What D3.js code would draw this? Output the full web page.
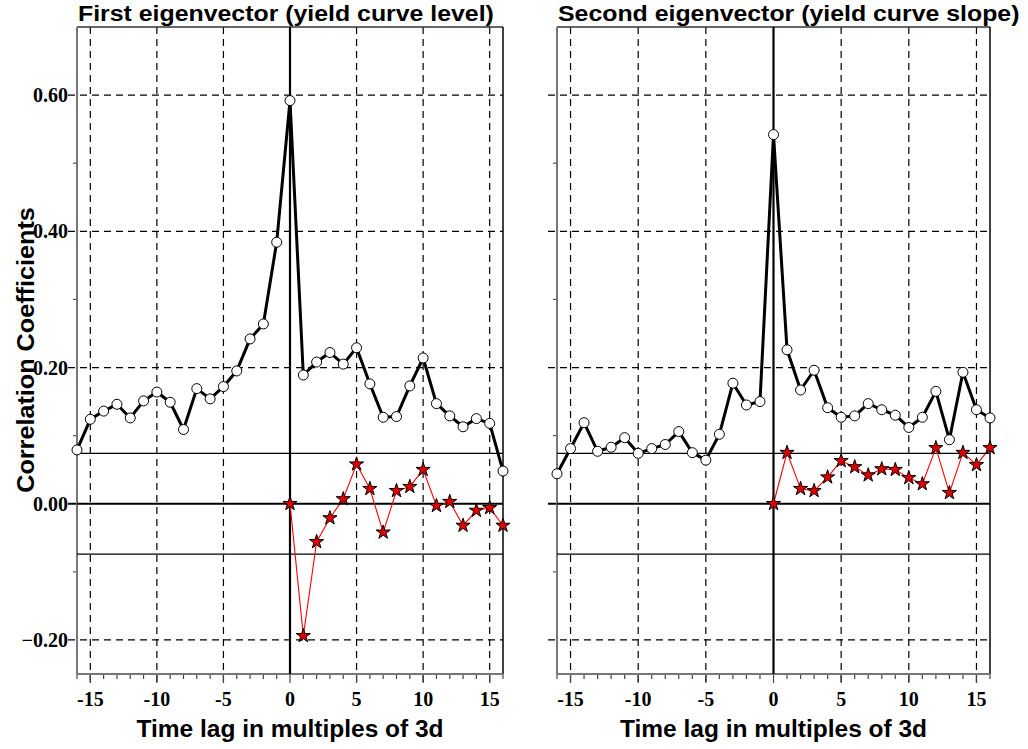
<!DOCTYPE html>
<html>
<head>
<meta charset="utf-8">
<script src="https://cdn.jsdelivr.net/npm/d3@7"></script>
<style>
body{margin:0;background:#fff}
</style>
</head>
<body>
<div id="chart"></div>
<script>
/* data */
var lags = d3.range(-16, 17);
var lagsPos = d3.range(0, 17);

var levelCorr = [0.079,0.124,0.136,0.146,0.126,0.151,0.164,0.149,0.109,0.169,0.154,0.172,0.195,0.242,0.264,0.384,
	0.592,
	0.189,0.208,0.222,0.205,0.229,0.176,0.127,0.128,0.173,0.214,0.147,0.129,0.113,0.125,0.118,0.048];
var levelPartial = [0.000,-0.194,-0.056,-0.021,0.007,0.058,0.022,-0.042,0.019,0.025,0.050,-0.003,0.003,-0.032,-0.010,-0.006,-0.032];

var slopeCorr = [0.044,0.081,0.119,0.077,0.083,0.097,0.074,0.081,0.087,0.106,0.075,0.064,0.102,0.177,0.145,0.150,
	0.542,
	0.226,0.167,0.196,0.141,0.127,0.129,0.147,0.138,0.130,0.112,0.127,0.165,0.094,0.193,0.138,0.126];
var slopePartial = [0.000,0.075,0.022,0.019,0.039,0.063,0.054,0.042,0.051,0.050,0.038,0.029,0.082,0.016,0.075,0.057,0.082];

var confBound = [0.074, -0.074];
var yTicks = [-0.2, 0, 0.2, 0.4, 0.6];
var yMinor = [-0.1, 0.1, 0.3, 0.5];
var xMajor = [-15, -10, -5, 0, 5, 10, 15];
var titles = ["First eigenvector (yield curve level)", "Second eigenvector (yield curve slope)"];
var xLabel = "Time lag in multiples of 3d";
var yLabel = "Correlation Coefficients";

/* layout */
var width = 1028, height = 749;
var top_ = 27, bottom_ = 674;
var panels = [
	{x0: 77, x1: 503, corr: levelCorr, part: levelPartial, title: titles[0], labels: true},
	{x0: 557, x1: 990, corr: slopeCorr, part: slopePartial, title: titles[1], labels: false}
];

var svg = d3.select("#chart").append("svg")
	.attr("width", width).attr("height", height);

var y = d3.scaleLinear().domain([-0.25, 0.70]).range([bottom_, top_]);

var sansBold = "'Liberation Sans', Arial, sans-serif";
var serifBold = "'Liberation Serif', 'Times New Roman', serif";

// the original font runs a bit wider than Liberation Sans, stretch it
function stretch(sel, k){
	sel.each(function(){
		var w = this.getComputedTextLength();
		d3.select(this).attr("textLength", w * k).attr("lengthAdjust", "spacingAndGlyphs");
	});
}

panels.forEach(function(p){
	var x = d3.scaleLinear().domain([-16, 16]).range([p.x0, p.x1]);
	var g = svg.append("g");

	/* dashed grid */
	g.selectAll(".vgrid").data(xMajor.filter(function(d){ return d !== 0; }))
		.enter().append("line")
		.attr("x1", x).attr("x2", x)
		.attr("y1", top_).attr("y2", bottom_ + 9)
		.attr("stroke", "#000").attr("stroke-width", 1.2)
		.attr("stroke-dasharray", "7,5");
	g.selectAll(".hgrid").data(yTicks.filter(function(d){ return d !== 0; }))
		.enter().append("line")
		.attr("x1", p.x0 - 9).attr("x2", p.x1)
		.attr("y1", y).attr("y2", y)
		.attr("stroke", "#000").attr("stroke-width", 1.2)
		.attr("stroke-dasharray", "7,5");

	/* minor y ticks */
	g.selectAll(".ymin").data(yMinor).enter().append("line")
		.attr("x1", p.x0 - 4).attr("x2", p.x0)
		.attr("y1", y).attr("y2", y)
		.attr("stroke", "#555").attr("stroke-width", 1.2);
	/* zero tick */
	g.append("line")
		.attr("x1", p.x0 - 9).attr("x2", p.x0)
		.attr("y1", y(0)).attr("y2", y(0))
		.attr("stroke", "#000").attr("stroke-width", 2);

	/* x ticks */
	g.selectAll(".xmin").data(d3.range(-16, 17)).enter().append("line")
		.attr("x1", x).attr("x2", x)
		.attr("y1", bottom_).attr("y2", function(d){ return bottom_ + (d % 5 === 0 ? 9 : 5); })
		.attr("stroke", "#444").attr("stroke-width", 1.2);

	/* frame */
	g.append("line").attr("x1", p.x0).attr("x2", p.x1).attr("y1", top_).attr("y2", top_)
		.attr("stroke", "#333").attr("stroke-width", 1.5);
	g.append("line").attr("x1", p.x1).attr("x2", p.x1).attr("y1", top_).attr("y2", bottom_)
		.attr("stroke", "#000").attr("stroke-width", 1.5);
	g.append("line").attr("x1", p.x0).attr("x2", p.x0).attr("y1", top_).attr("y2", bottom_)
		.attr("stroke", "#777").attr("stroke-width", 2);
	g.append("line").attr("x1", p.x0).attr("x2", p.x1).attr("y1", bottom_).attr("y2", bottom_)
		.attr("stroke", "#777").attr("stroke-width", 2);

	/* zero lines */
	g.append("line").attr("x1", p.x0).attr("x2", p.x1).attr("y1", y(0)).attr("y2", y(0))
		.attr("stroke", "#000").attr("stroke-width", 2.2);
	g.append("line").attr("x1", x(0)).attr("x2", x(0)).attr("y1", top_).attr("y2", bottom_)
		.attr("stroke", "#000").attr("stroke-width", 2.2);

	/* confidence bounds */
	g.selectAll(".conf").data(confBound).enter().append("line")
		.attr("x1", p.x0).attr("x2", p.x1)
		.attr("y1", y).attr("y2", y)
		.attr("stroke", "#000").attr("stroke-width", 1.1);

	/* correlation line */
	var line = d3.line()
		.x(function(d, i){ return x(lags[i]); })
		.y(function(d){ return y(d); });
	g.append("path").datum(p.corr)
		.attr("d", line)
		.attr("fill", "none").attr("stroke", "#000")
		.attr("stroke-width", 3).attr("stroke-linejoin", "round");

	/* partial line */
	var line2 = d3.line()
		.x(function(d, i){ return x(lagsPos[i]); })
		.y(function(d){ return y(d); });
	g.append("path").datum(p.part)
		.attr("d", line2)
		.attr("fill", "none").attr("stroke", "#ff0000")
		.attr("stroke-width", 1.1);

	g.selectAll(".dot").data(p.corr).enter().append("circle")
		.attr("cx", function(d, i){ return x(lags[i]); })
		.attr("cy", function(d){ return y(d); })
		.attr("r", 5)
		.attr("fill", "#fff").attr("stroke", "#000").attr("stroke-width", 1);

	var star = d3.symbol().type(d3.symbolStar).size(62);
	g.selectAll(".star").data(p.part).enter().append("path")
		.attr("d", star)
		.attr("transform", function(d, i){ return "translate(" + x(lagsPos[i]) + "," + y(d) + ")"; })
		.attr("fill", "#e00000").attr("stroke", "#000").attr("stroke-width", 1);

	/* tick labels */
	g.selectAll(".xlab").data(xMajor).enter().append("text")
		.attr("x", x).attr("y", 706)
		.attr("text-anchor", "middle")
		.style("font-family", serifBold).style("font-weight", "bold").style("font-size", "20px")
		.text(function(d){ return d; });

	if (p.labels) {
		g.selectAll(".ylab").data(yTicks).enter().append("text")
			.attr("x", p.x0 - 9).attr("y", function(d){ return y(d) + 7; })
			.attr("text-anchor", "end")
			.style("font-family", serifBold).style("font-weight", "bold").style("font-size", "20px")
			.text(function(d){ return d3.format(".2f")(d); });
	}

	/* titles */
	g.append("text")
		.attr("x", p.x0 + 1).attr("y", 21)
		.style("font-family", sansBold).style("font-weight", "bold").style("font-size", "22px")
		.text(p.title)
		.call(stretch, 1.13);

	g.append("text")
		.attr("x", (p.x0 + p.x1) / 2).attr("y", 737)
		.attr("text-anchor", "middle")
		.style("font-family", sansBold).style("font-weight", "bold").style("font-size", "23px")
		.text(xLabel)
		.call(stretch, 1.065);
});

svg.append("text")
	.attr("transform", "translate(34,350) rotate(-90)")
	.attr("text-anchor", "middle")
	.style("font-family", sansBold).style("font-weight", "bold").style("font-size", "24px")
	.text(yLabel)
	.call(stretch, 1.05);
</script>
</body>
</html>
